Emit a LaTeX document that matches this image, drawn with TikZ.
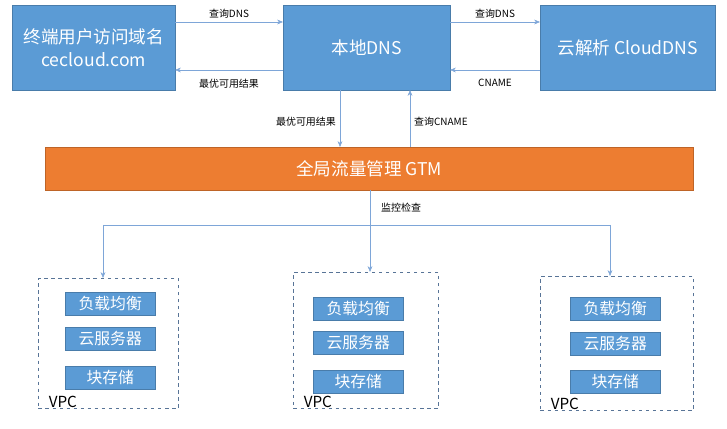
\documentclass[tikz,border=0pt]{standalone}
\usepackage{fontspec}
\setmainfont{Noto Sans CJK SC}
\usetikzlibrary{arrows.meta}
\definecolor{bl}{HTML}{5B9BD5}
\definecolor{ln}{HTML}{7EA6D8}
\definecolor{og}{HTML}{ED7D31}
\begin{document}
\begin{tikzpicture}[x=0.03cm,y=-0.03cm,
  box/.style={draw=bl!80!black,fill=bl,text=white,inner sep=0,anchor=north west,align=center},
  vpc/.style={draw=ln!70!black,dashed,thick,anchor=north west,inner sep=0},
  arr/.style={draw=ln,-{Stealth[length=5pt,width=4pt]}},
  lab/.style={font=\fontsize{8.5}{10}\selectfont},
  sm/.style={box,minimum width=2.7cm,minimum height=0.7cm,font=\fontsize{13.5}{15}\selectfont}]
\useasboundingbox (0,0) rectangle (727,429);
\node[box,minimum width=4.89cm,minimum height=2.55cm,font=\fontsize{15}{20}\selectfont] (A) at (12,5) {终端用户访问域名\\cecloud.com};
\node[box,minimum width=5.01cm,minimum height=2.55cm,font=\fontsize{15}{18}\selectfont] (B) at (283,5) {本地DNS};
\node[box,minimum width=5.25cm,minimum height=2.55cm,font=\fontsize{15}{18}\selectfont] (C) at (540,5) {云解析 CloudDNS};
\node[box,fill=og,draw=og!80!black,minimum width=19.44cm,minimum height=1.29cm,font=\fontsize{15}{18}\selectfont] (G) at (45,147) {全局流量管理 GTM};
\draw[arr] (175,22) -- node[lab,above]{查询DNS} (283,22);
\draw[arr] (283,70) -- node[lab,below=4pt]{最优可用结果} (175,70);
\draw[arr] (450,22) -- node[lab,above]{查询DNS} (540,22);
\draw[arr] (540,70) -- node[lab,below=4pt]{CNAME} (450,70);
\draw[arr] (340,90) -- node[lab,left,pos=0.55]{最优可用结果} (340,147);
\draw[arr] (410,147) -- node[lab,right,pos=0.45]{查询CNAME} (410,90);
\coordinate (J) at (370,225);
\draw[ln] (370,190) -- node[lab,right=6pt,text=black]{监控检查} (J);
\draw[ln] (103,225) -- (610,225);
\node[vpc,minimum width=4.2cm,minimum height=3.9cm] (V1) at (38,278) {};
\node[vpc,minimum width=4.35cm,minimum height=4.08cm] (V2) at (293,272) {};
\node[vpc,minimum width=4.59cm,minimum height=4.02cm] (V3) at (540,276) {};
\draw[arr] (103,225) -- (103,278);
\draw[arr] (J) -- (370,272);
\draw[arr] (610,225) -- (610,276);
\foreach \v/\x/\a/\b/\c in {V1/65/292/327/366, V2/313/297/331/370, V3/570/297/332/370}{
 \node[sm] (\v a) at (\x,\a) {负载均衡};
 \node[sm] (\v b) at (\x,\b) {云服务器};
 \node[sm] (\v c) at (\x,\c) {块存储};
 \node[anchor=south west,inner sep=1pt,xshift=8pt,font=\fontsize{13}{15}\selectfont] at (\v.south west) {VPC};
}
\end{tikzpicture}
\end{document}
